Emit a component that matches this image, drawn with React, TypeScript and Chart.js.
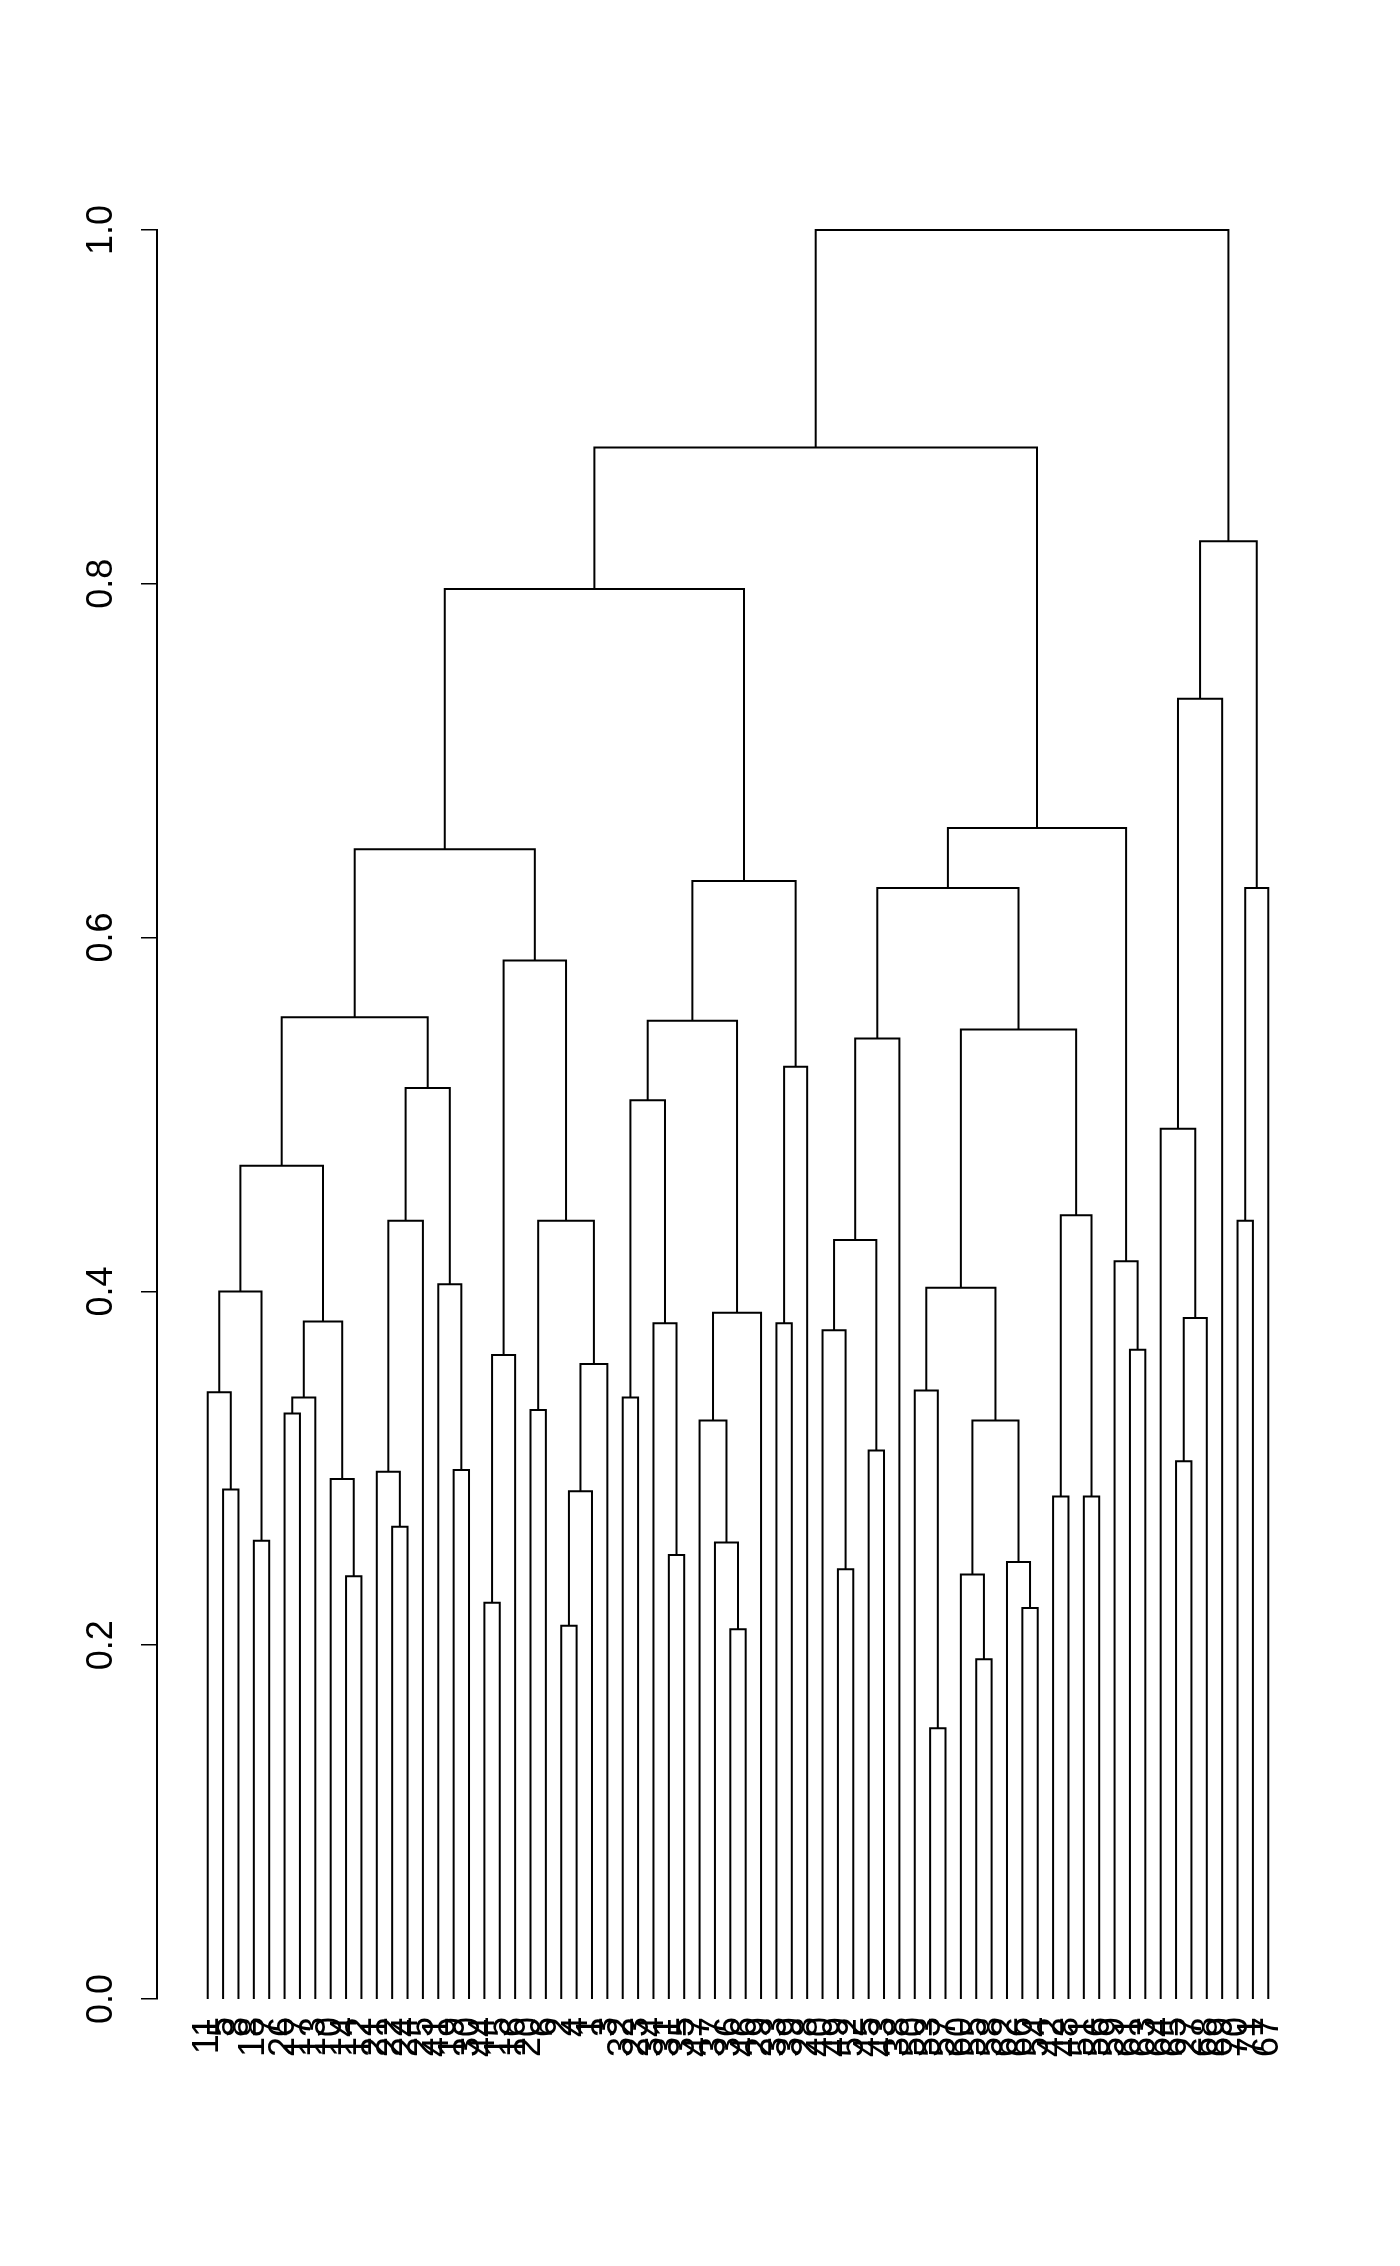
import React, { useEffect, useRef } from "react";
import { Chart, registerables } from "chart.js";

Chart.register(...registerables);

// Leaf labels, in the left-to-right order of the dendrogram
const leafLabels = [
  "11", "5", "8", "18", "7", "26", "17", "13", "10", "14",
  "12", "21", "22", "24", "25", "41", "19", "30", "44", "15",
  "16", "20", "6", "2", "4", "1", "3", "32", "23", "34",
  "31", "35", "47", "37", "36", "46", "29", "33", "39", "28",
  "40", "49", "52", "45", "43", "38", "50", "53", "57", "60",
  "55", "58", "62", "66", "54", "42", "48", "51", "56", "59",
  "61", "63", "64", "65", "27", "68", "69", "70", "71", "67",
];

// hclust-style merge table: negative = leaf position, positive = earlier merge (1-based)
const mergeLeft = [
  -2, -1, -4, 2, -6, 5, -10, -9, 6, 4,
  -13, -12, 12, -17, -16, 13, 10, -19, 18, -22,
  -24, 21, 22, 20, 19, 17, -28, -31, -30, 27,
  -35, -34, -33, 33, 30, -38, 36, 35, 26, -42,
  -41, -44, 41, 43, -48, -47, -51, -50, -54, -53,
  48, 46, -56, -58, 53, 52, 44, -61, -60, 57,
  39, -64, 62, -63, 64, -68, 66, 65, 61,
];
const mergeRight = [
  -3, 1, -5, 3, -7, -8, -11, 7, 8, 9,
  -14, 11, -15, -18, 14, 15, 16, -20, -21, -23,
  -25, -26, -27, 23, 24, 25, -29, -32, 28, 29,
  -36, 31, 32, -37, 34, -39, -40, 37, 38, -43,
  40, -45, 42, -46, -49, 45, -52, 47, -55, 49,
  50, 51, -57, -59, 54, 55, 56, -62, 58, 59,
  60, -65, -66, 63, -67, -69, -70, 67, 68,
];
const mergeHeight = [
  0.288, 0.343, 0.259, 0.400, 0.331, 0.340, 0.239, 0.294, 0.383, 0.471,
  0.267, 0.298, 0.440, 0.299, 0.404, 0.515, 0.555, 0.224, 0.364, 0.333,
  0.211, 0.287, 0.359, 0.440, 0.587, 0.650, 0.340, 0.251, 0.382, 0.508,
  0.209, 0.258, 0.327, 0.388, 0.553, 0.382, 0.527, 0.632, 0.797, 0.243,
  0.378, 0.310, 0.429, 0.543, 0.153, 0.344, 0.192, 0.240, 0.221, 0.247,
  0.327, 0.402, 0.284, 0.284, 0.443, 0.548, 0.628, 0.367, 0.417, 0.662,
  0.877, 0.304, 0.385, 0.492, 0.735, 0.440, 0.628, 0.824, 1.000,
];

const yTickValues = [0, 0.2, 0.4, 0.6, 0.8, 1.0];

type Pt = { x: number; y: number };

function buildSegments(): Pt[][] {
  const nodeX: number[] = [];
  const nodeH: number[] = [];
  const segs: Pt[][] = [];
  for (let k = 0; k < mergeHeight.length; k++) {
    const l = mergeLeft[k];
    const r = mergeRight[k];
    const xl = l < 0 ? -l : nodeX[l - 1];
    const hl = l < 0 ? 0 : nodeH[l - 1];
    const xr = r < 0 ? -r : nodeX[r - 1];
    const hr = r < 0 ? 0 : nodeH[r - 1];
    const h = mergeHeight[k];
    nodeX[k] = (xl + xr) / 2;
    nodeH[k] = h;
    segs.push([
      { x: xl, y: hl },
      { x: xl, y: h },
      { x: xr, y: h },
      { x: xr, y: hr },
    ]);
  }
  return segs;
}

const FONT = "'Liberation Sans', Arial, Helvetica, sans-serif";

export default function App() {
  const canvasRef = useRef<HTMLCanvasElement | null>(null);

  useEffect(() => {
    const canvas = canvasRef.current;
    if (!canvas) return;
    const segs = buildSegments();
    const chart = new Chart(canvas, {
      type: "scatter",
      data: {
        datasets: segs.map((pts) => ({
          data: pts,
          showLine: true,
          borderColor: "#000000",
          backgroundColor: "#000000",
          borderWidth: 2,
          pointRadius: 0,
          pointHoverRadius: 0,
          fill: false,
          tension: 0,
          clip: false as any,
          borderCapStyle: "butt" as const,
          borderJoinStyle: "miter" as const,
        })),
      },
      options: {
        responsive: false,
        animation: false,
        devicePixelRatio: 1,
        events: [],
        layout: { padding: { top: 230, right: 81, left: 0, bottom: 0 } },
        plugins: {
          legend: { display: false },
          tooltip: { enabled: false },
          title: { display: false },
        },
        scales: {
          x: {
            type: "linear",
            min: -2.3,
            max: 73.3,
            afterBuildTicks: (s: any) => {
              s.ticks = leafLabels.map((_, i) => ({ value: i + 1 }));
            },
            afterFit: (s: any) => {
              s.height = 267;
            },
            grid: { display: false, drawTicks: false },
            border: { display: false },
            ticks: {
              autoSkip: false,
              minRotation: 90,
              maxRotation: 90,
              padding: 18,
              color: "#000000",
              font: { family: FONT, size: 36 },
              callback: (_v: any, i: number) => leafLabels[i],
            },
          },
          y: {
            type: "linear",
            min: 0,
            max: 1,
            afterBuildTicks: (s: any) => {
              s.ticks = yTickValues.map((v) => ({ value: v }));
            },
            afterFit: (s: any) => {
              s.width = 157;
            },
            grid: {
              display: true,
              drawOnChartArea: false,
              drawTicks: true,
              tickLength: 16,
              color: "#000000",
              lineWidth: 1.5,
            },
            border: { display: true, color: "#000000", width: 2 },
            ticks: {
              minRotation: 90,
              maxRotation: 90,
              crossAlign: "center",
              padding: 14,
              color: "#000000",
              font: { family: FONT, size: 36 },
              callback: (v: any) => Number(v).toFixed(1),
            },
          },
        },
      },
    } as any);
    return () => {
      chart.destroy();
    };
  }, []);

  return (
    <div
      style={{
        position: "absolute",
        left: 0,
        top: 0,
        width: 1400,
        height: 2266,
        background: "#ffffff",
      }}
    >
      <canvas
        ref={canvasRef}
        width={1400}
        height={2266}
        style={{ width: 1400, height: 2266, display: "block" }}
      />
    </div>
  );
}
